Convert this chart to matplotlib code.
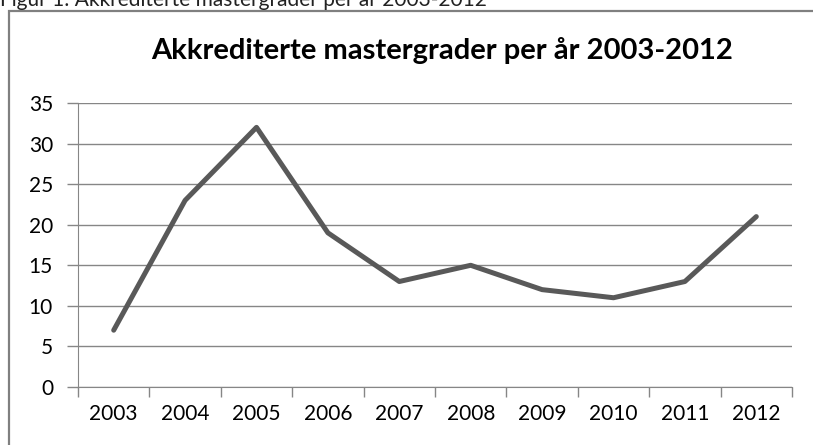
import matplotlib.pyplot as plt
from matplotlib.patches import Rectangle

years = ["2003", "2004", "2005", "2006", "2007", "2008", "2009", "2010", "2011", "2012"]
grader = [7, 23, 32, 19, 13, 15, 12, 11, 13, 21]
yticks = [0, 5, 10, 15, 20, 25, 30, 35]

plt.rcParams['font.family'] = ['Lato', 'DejaVu Sans']

fig = plt.figure(figsize=(8.13, 4.45), dpi=100)

# outer chart frame (cut off at right/bottom like the screenshot)
frame = Rectangle((9 / 813, -0.05), 1.0, 1 - 11 / 445 + 0.05, transform=fig.transFigure,
                  fill=False, edgecolor='#808080', linewidth=1.6, clip_on=False)
fig.patches.append(frame)

fig.text(0.0, 1 - 6 / 445, "Figur 1: Akkrediterte mastergrader per år 2003-2012",
         fontsize=15, va='baseline', ha='left', color='#222222')

ax = fig.add_axes([78 / 813, 1 - 387 / 445, (792 - 78) / 813, (387 - 103) / 445])

x = [i + 0.5 for i in range(len(years))]
ax.plot(x, grader, color='#595959', linewidth=3.6, solid_capstyle='round', solid_joinstyle='round')

ax.set_xlim(0, len(years))
ax.set_ylim(0, 35)
ax.set_yticks(yticks)
ax.set_yticklabels([str(v) for v in yticks])
ax.set_xticks(range(len(years) + 1))
ax.set_xticklabels([])
ax.set_xticks(x, minor=True)
ax.set_xticklabels(years, minor=True)
ax.tick_params(axis='x', which='minor', length=0, pad=12, labelsize=15)
ax.tick_params(axis='x', which='major', length=7, color='#868686', width=1)
ax.tick_params(axis='y', length=8, color='#868686', width=1, labelsize=15, pad=10)

ax.grid(axis='y', color='#868686', linewidth=1)
ax.set_axisbelow(True)
for s in ['top', 'right']:
    ax.spines[s].set_visible(False)
ax.spines['left'].set_color('#868686')
ax.spines['bottom'].set_color('#868686')

ax.set_title("Akkrediterte mastergrader per år 2003-2012", fontsize=21, fontweight='bold',
             pad=32, x=(442 - 78) / (792 - 78))

fig.savefig("out.png", dpi=100)
